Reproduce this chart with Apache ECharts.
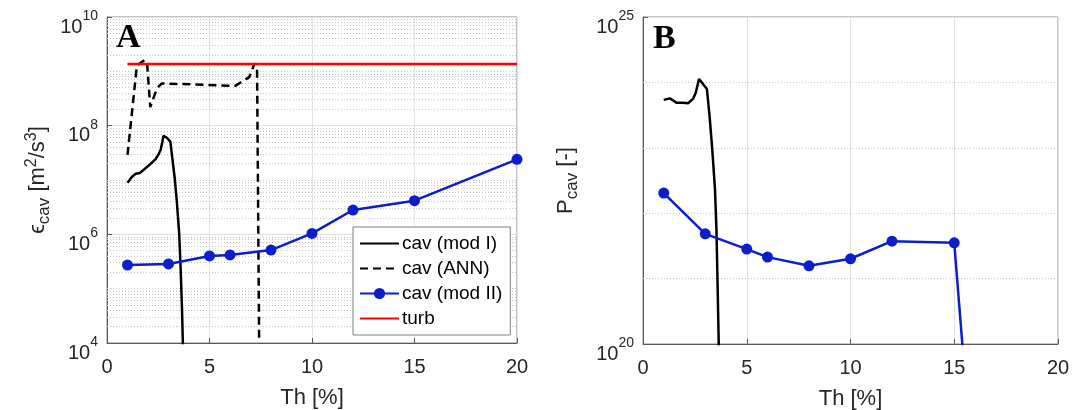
<!DOCTYPE html>
<html><head><meta charset="utf-8">
<script src="https://cdn.jsdelivr.net/npm/echarts@6/dist/echarts.min.js"></script>
<style>html,body{margin:0;padding:0;background:#fff}#c{width:1074px;height:410px}</style>
</head><body><div id="c"></div>
<script>
// ---------- Data ----------
// Panel A: epsilon_cav [m^2/s^3]
const aModIx = [1.0, 1.22, 1.4, 1.6, 1.75, 2.0, 2.2, 2.36, 2.52, 2.62, 2.76, 2.92, 3.09, 3.2, 3.3, 3.4, 3.52, 3.59, 3.66, 3.7, 3.75];
const aModIy = [8.9e6, 1.15e7, 1.3e7, 1.35e7, 1.5e7, 1.8e7, 2.1e7, 2.4e7, 3.0e7, 3.6e7, 6.5e7, 6.0e7, 5.1e7, 2.3e7, 1.1e7, 4.3e6, 1.05e6, 2.5e5, 4.1e4, 1e4, 3e3];
const aAnnx = [1.0, 1.46, 1.83, 1.95, 2.11, 2.44, 2.68, 6.26, 6.59, 6.94, 7.2, 7.32, 7.42];
const aAnny = [2.9e7, 1.3e9, 1.6e9, 1.5e9, 2.2e8, 4.9e8, 6.0e8, 5.4e8, 6.5e8, 7.8e8, 1.4e9, 1.14e9, 1.2e4];
const aModIIx = [1, 3, 5, 6, 8, 10, 12, 15, 20];
const aModIIy = [2.72e5, 2.85e5, 4.0e5, 4.17e5, 5.14e5, 1.04e6, 2.8e6, 4.16e6, 2.4e7];
const aTurbx = [1, 20];
const aTurby = [1.36e9, 1.36e9];
// Panel B: P_cav [-]
const bModIx = [1.0, 1.29, 1.45, 1.61, 1.93, 2.17, 2.41, 2.54, 2.7, 3.08, 3.21, 3.34, 3.47, 3.54, 3.59, 3.65, 3.7];
const bModIy = [5.4e23, 5.7e23, 5.3e23, 4.9e23, 4.9e23, 4.8e23, 5.6e23, 6.9e23, 1.13e24, 7.9e23, 3.0e23, 9.3e22, 2.3e22, 5.6e21, 9.5e20, 1.0e20, 3e19];
const bModIIx = [1, 3, 5, 6, 8, 10, 12, 15, 16];
const bModIIy = [2.03e22, 4.84e21, 2.83e21, 2.13e21, 1.57e21, 2.01e21, 3.74e21, 3.52e21, 3.8e17];
// Tick settings
const xTicks = [0, 5, 10, 15, 20];
const aYRange = [1e4, 1e10];
const bYRange = [1e20, 1e25];
const legendNames = ['cav (mod I)', 'cav (ANN)', 'cav (mod II)', 'turb'];
const legendNoMarker = ['cav (mod I)', 'cav (ANN)', 'turb'];

// ---------- helpers ----------
const zip = (xs, ys) => xs.map((x, i) => [x, ys[i]]);
const FONT = '"Liberation Sans", Arial, sans-serif';
const BLUE = '#0a1ecc';
const TXT = '#262626';

// minor grid positions (axis decoration)
const aMinor = [];
for (let e = 4; e < 10; e++) for (let k = 2; k <= 10; k++) {
  const v = k * Math.pow(10, e);
  if (k === 10 && (e + 1) % 2 === 0) continue;
  aMinor.push(v);
}
const bMinor = [1e21, 1e22, 1e23, 1e24];

function yLabel() {
  return {
    fontFamily: FONT, color: TXT, margin: 9, verticalAlign: 'top',
    formatter: v => '{b|10}{s|' + Math.round(Math.log10(v)) + '}',
    rich: {
      b: {fontSize: 20, lineHeight: 20, verticalAlign: 'bottom', fontFamily: FONT, color: TXT},
      s: {fontSize: 14, lineHeight: 14, verticalAlign: 'bottom', padding: [0, 0, 14, 0], fontFamily: FONT, color: TXT}
    }
  };
}
const titleRich = {
  t: {fontSize: 22, lineHeight: 22, verticalAlign: 'bottom', padding: [0, 0, 4, 0], fontFamily: FONT, color: TXT},
  sub: {fontSize: 17, lineHeight: 17, verticalAlign: 'bottom', fontFamily: FONT, color: TXT},
  sup: {fontSize: 16, lineHeight: 16, verticalAlign: 'bottom', padding: [0, 0, 13, 0], fontFamily: FONT, color: TXT}
};

function xAxisFor(grid) {
  return {
    gridIndex: grid, type: 'value', min: xTicks[0], max: xTicks[xTicks.length - 1], interval: xTicks[1] - xTicks[0],
    axisLine: {show: true, onZero: false, lineStyle: {color: '#595959', width: 1}},
    axisTick: {show: true, inside: true, length: 5, lineStyle: {color: '#595959'}},
    axisLabel: {fontSize: 20, fontFamily: FONT, color: TXT, margin: 14},
    splitLine: {show: true, lineStyle: {color: '#e2e2e2', width: 1}},
    name: 'Th [%]', nameLocation: 'middle', nameGap: 44,
    nameTextStyle: {fontSize: 22, fontFamily: FONT, color: TXT}
  };
}
function minorSeries(xi, yi, vals) {
  return {
    type: 'line', xAxisIndex: xi, yAxisIndex: yi, data: [], silent: true,
    markLine: {
      silent: true, z: 1, symbol: ['none', 'none'], label: {show: false}, animation: false,
      lineStyle: {type: [1, 2], color: '#c4c4c4', width: 1},
      emphasis: {disabled: true},
      data: vals.map(v => ({yAxis: v}))
    }
  };
}

const option = {
  animation: false,
  backgroundColor: '#fff',
  grid: [
    {left: 107, top: 17, width: 410, height: 326, outerBoundsMode: 'none', containLabel: false, show: true, borderColor: '#8c8c8c', borderWidth: 1, backgroundColor: 'transparent'},
    {left: 643, top: 17, width: 415, height: 327, outerBoundsMode: 'none', containLabel: false, show: true, borderColor: '#8c8c8c', borderWidth: 1, backgroundColor: 'transparent'}
  ],
  xAxis: [xAxisFor(0), xAxisFor(1)],
  yAxis: [
    {
      gridIndex: 0, type: 'log', logBase: 10, min: aYRange[0], max: aYRange[1], interval: 2,
      axisLine: {show: true, lineStyle: {color: '#595959'}},
      axisTick: {show: true, inside: true, length: 5, lineStyle: {color: '#595959'}},
      axisLabel: yLabel(),
      splitLine: {show: true, lineStyle: {color: '#e2e2e2'}},
      name: '{t|ϵ}{sub|cav}{t| [m}{sup|2}{t|/s}{sup|3}{t|]}', nameLocation: 'middle', nameRotate: 90, nameGap: 54,
      nameTextStyle: {rich: titleRich}
    },
    {
      gridIndex: 1, type: 'log', logBase: 10, min: bYRange[0], max: bYRange[1], interval: 5,
      axisLine: {show: true, lineStyle: {color: '#595959'}},
      axisTick: {show: true, inside: true, length: 5, lineStyle: {color: '#595959'}},
      axisLabel: yLabel(),
      splitLine: {show: true, lineStyle: {color: '#e2e2e2'}},
      name: '{t|P}{sub|cav}{t| [-]}', nameLocation: 'middle', nameRotate: 90, nameGap: 62,
      nameTextStyle: {rich: titleRich}
    }
  ],
  legend: {
    data: legendNames.map(n => legendNoMarker.indexOf(n) >= 0 ? {name: n, itemStyle: {opacity: 0, borderWidth: 0}} : {name: n}),
    orient: 'vertical', left: 353, top: 227,
    backgroundColor: '#fff', borderColor: '#7f7f7f', borderWidth: 1,
    padding: [6, 8, 6, 6], itemWidth: 39, itemHeight: 14, itemGap: 4,
    textStyle: {fontSize: 19, fontFamily: FONT, color: '#000', lineHeight: 21, padding: [0, 0, 0, -2]}
  },
  graphic: [
    {type: 'text', left: 116, top: 21, z: 100, style: {text: 'A', font: 'bold 34px "Liberation Serif", "Times New Roman", serif', fill: '#000'}},
    {type: 'text', left: 653, top: 22, z: 100, style: {text: 'B', font: 'bold 34px "Liberation Serif", "Times New Roman", serif', fill: '#000'}}
  ],
  series: [
    minorSeries(0, 0, aMinor),
    minorSeries(1, 1, bMinor),
    {name: 'cav (mod I)', type: 'line', xAxisIndex: 0, yAxisIndex: 0, data: zip(aModIx, aModIy), symbol: 'none', clip: true,
     lineStyle: {color: '#000', width: 2.5}, itemStyle: {color: '#000'}},
    {name: 'cav (ANN)', type: 'line', xAxisIndex: 0, yAxisIndex: 0, data: zip(aAnnx, aAnny), symbol: 'none', clip: true,
     lineStyle: {color: '#000', width: 2.5, type: [8, 5]}, itemStyle: {color: '#000'}},
    {name: 'cav (mod II)', type: 'line', xAxisIndex: 0, yAxisIndex: 0, data: zip(aModIIx, aModIIy), symbol: 'circle', symbolSize: 11, clip: true,
     lineStyle: {color: BLUE, width: 2.5}, itemStyle: {color: BLUE}},
    {name: 'turb', type: 'line', xAxisIndex: 0, yAxisIndex: 0, data: zip(aTurbx, aTurby), symbol: 'none', clip: true,
     lineStyle: {color: '#ff0000', width: 2.5}, itemStyle: {color: '#ff0000'}},
    {name: 'cav (mod I)', type: 'line', xAxisIndex: 1, yAxisIndex: 1, data: zip(bModIx, bModIy), symbol: 'none', clip: true,
     lineStyle: {color: '#000', width: 2.5}, itemStyle: {color: '#000'}},
    {name: 'cav (mod II)', type: 'line', xAxisIndex: 1, yAxisIndex: 1, data: zip(bModIIx, bModIIy), symbol: 'circle', symbolSize: 11, clip: true,
     lineStyle: {color: BLUE, width: 2.5}, itemStyle: {color: BLUE}}
  ]
};
const chart = echarts.init(document.getElementById('c'), null, {renderer: 'canvas'});
chart.setOption(option);
</script>
</body></html>
